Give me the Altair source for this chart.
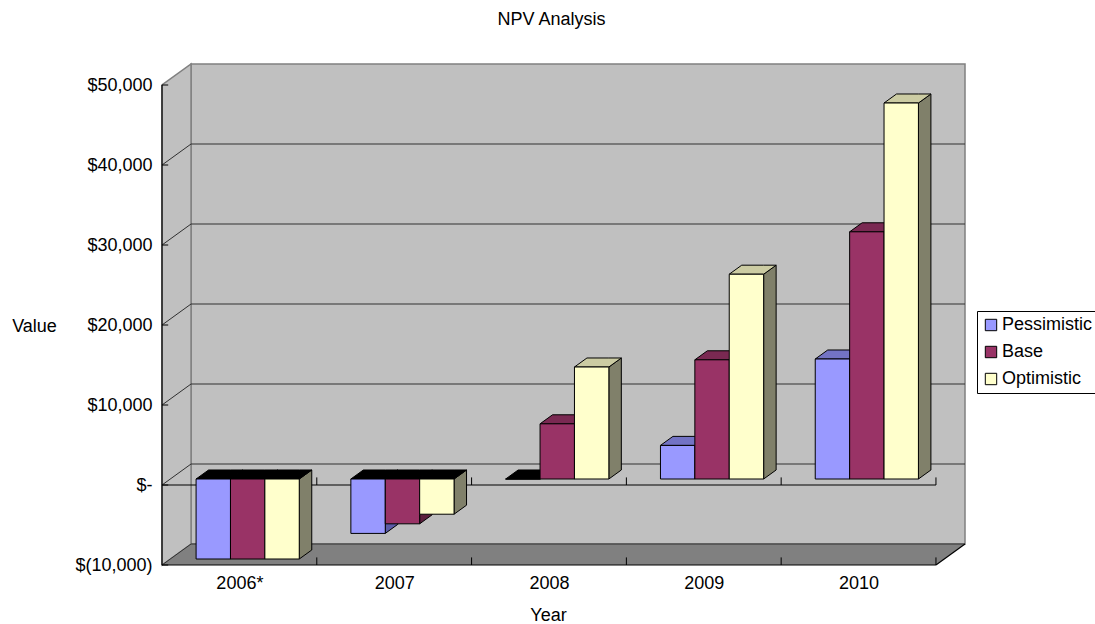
import altair as alt
import pandas as pd

# ---- chart values -------------------------------------------------------
years = ["2006*", "2007", "2008", "2009", "2010"]
series = ["Pessimistic", "Base", "Optimistic"]
pessimistic = [-10000, -6800, 0, 4200, 15000]
base = [-10000, -5600, 6900, 14900, 30900]
optimistic = [-10000, -4400, 14000, 25600, 47000]
y_ticks = [-10000, 0, 10000, 20000, 30000, 40000, 50000]

front_colors = ["#9999FF", "#993366", "#FFFFCC"]
top_colors = ["#7373C4", "#7A2952", "#CCCCA3"]
side_colors = ["#5C5CA8", "#5C1F3D", "#80806A"]

# ---- oblique projection settings (data units) ---------------------------
Y_MIN, Y_MAX = -10000, 50000
N = len(years)
DX = 0.1876      # wall depth along x, in category units
DV = 2625        # wall depth along y, in value units
BAR_W = 0.2222   # width of one bar
GROUP = BAR_W * len(series)
BAR_FRONT = 0.285
BAR_DEPTH = 0.43

FONT = "Liberation Sans"
X_DOMAIN = [0, N + DX]
Y_DOMAIN = [Y_MIN, Y_MAX + DV]

label_js = "[" + ",".join("'%s'" % y for y in years) + "]"


def X(field):
    return alt.X(
        field + ":Q",
        scale=alt.Scale(domain=X_DOMAIN, nice=False, zero=False),
        axis=alt.Axis(
            values=[i + 0.5 for i in range(N)],
            labelExpr=label_js + "[floor(datum.value)]",
            ticks=False, domain=False, grid=False,
            labelFont=FONT, labelFontSize=18, labelColor="black", labelPadding=9,
            title="Year", titleFont=FONT, titleFontSize=18, titleFontWeight="normal",
            titleColor="black", titleX=386, titleY=50, titleAlign="center",
            titleBaseline="middle",
        ),
    )


def Y(field):
    return alt.Y(
        field + ":Q",
        stack=None,
        scale=alt.Scale(domain=Y_DOMAIN, nice=False, zero=False),
        axis=alt.Axis(
            values=y_ticks,
            labelExpr="datum.value == 0 ? '$-' : (datum.value < 0 ? '$(' + format(-datum.value, ',') + ')' : '$' + format(datum.value, ','))",
            ticks=False, domain=False, grid=False,
            labelFont=FONT, labelFontSize=18, labelColor="black", labelPadding=10,
            title="Value", titleFont=FONT, titleFontSize=18, titleFontWeight="normal",
            titleColor="black", titleAngle=0, titleX=-128, titleY=262,
            titleAlign="center", titleBaseline="middle",
        ),
    )


def polygon_layer(df, stroke=None, stroke_width=1):
    # each face is a band between y and y2 along x, one path per "id"
    kw = dict(orient="vertical", interpolate="linear")
    if stroke:
        kw.update(stroke=stroke, strokeWidth=stroke_width)
    else:
        kw.update(strokeWidth=0)
    return alt.Chart(df).mark_area(**kw).encode(
        x=X("x"), y=Y("y"), y2="y2:Q",
        fill=alt.Fill("face_color:N", scale=None),
        detail="id:N",
    )


# ---- walls and floor -----------------------------------------------------
back_wall = alt.Chart(pd.DataFrame([{
    "x": DX, "x2": N + DX, "y": Y_MIN + DV, "y2": Y_MAX + DV,
}])).mark_rect(fill="#C0C0C0", stroke="#808080", strokeWidth=1.5).encode(
    x=X("x"), x2="x2:Q", y=Y("y"), y2="y2:Q"
)

side_wall = polygon_layer(pd.DataFrame([
    {"id": "side", "x": 0, "y": Y_MIN, "y2": Y_MAX, "face_color": "#C0C0C0"},
    {"id": "side", "x": DX, "y": Y_MIN + DV, "y2": Y_MAX + DV, "face_color": "#C0C0C0"},
]), stroke="#808080", stroke_width=1.5)

floor = polygon_layer(pd.DataFrame([
    {"id": "floor", "x": 0, "y": Y_MIN, "y2": Y_MIN, "face_color": "#808080"},
    {"id": "floor", "x": DX, "y": Y_MIN, "y2": Y_MIN + DV, "face_color": "#808080"},
    {"id": "floor", "x": N, "y": Y_MIN, "y2": Y_MIN + DV, "face_color": "#808080"},
    {"id": "floor", "x": N + DX, "y": Y_MIN + DV, "y2": Y_MIN + DV, "face_color": "#808080"},
]))

# gridlines: diagonal on the side wall, then across the back wall
grid_rows = []
for v in y_ticks[:-1]:
    grid_rows += [
        {"id": v, "ord": 0, "x": 0, "y": v},
        {"id": v, "ord": 1, "x": DX, "y": v + DV},
        {"id": v, "ord": 2, "x": N + DX, "y": v + DV},
    ]
gridlines = alt.Chart(pd.DataFrame(grid_rows)).mark_line(
    color="#303030", strokeWidth=1
).encode(x=X("x"), y=Y("y"), detail="id:N", order=alt.Order("ord:Q"))

# ---- axis lines and inward ticks -----------------------------------------
axis_lines = pd.DataFrame([
    {"x": 0, "x2": 0, "y": Y_MIN, "y2": Y_MAX},          # value axis
    {"x": 0, "x2": N, "y": 0, "y2": 0},                  # category axis at zero
    {"x": 0, "x2": N, "y": Y_MIN, "y2": Y_MIN},          # floor front edge
])
axis_rules = alt.Chart(axis_lines).mark_rule(color="black", strokeWidth=1.2).encode(
    x=X("x"), x2="x2:Q", y=Y("y"), y2="y2:Q"
)

tick_rows = []
for i in range(1, N + 1):
    for lvl in (0, Y_MIN):
        tick_rows.append({"x": i, "x2": i, "y": lvl, "y2": lvl + 950})
for v in y_ticks:
    tick_rows.append({"x": 0, "x2": 0.04, "y": v, "y2": v})
tick_rules = alt.Chart(pd.DataFrame(tick_rows)).mark_rule(color="black", strokeWidth=1).encode(
    x=X("x"), x2="x2:Q", y=Y("y"), y2="y2:Q"
)

floor_edge = alt.Chart(pd.DataFrame([
    {"id": "e", "ord": 0, "x": N, "y": Y_MIN},
    {"id": "e", "ord": 1, "x": N + DX, "y": Y_MIN + DV},
])).mark_line(color="black", strokeWidth=1.2).encode(
    x=X("x"), y=Y("y"), detail="id:N", order=alt.Order("ord:Q")
)

# ---- 3-D columns ---------------------------------------------------------
bdx = DX * BAR_DEPTH
bdv = DV * BAR_DEPTH
ox = DX * BAR_FRONT
ov = DV * BAR_FRONT

bar_layers = []
for k, (name, values) in enumerate(zip(series, [pessimistic, base, optimistic])):
    fronts, faces = [], []
    for i, (year, val) in enumerate(zip(years, values)):
        xl = i + (1 - GROUP) / 2 + k * BAR_W + ox
        xr = xl + BAR_W
        lo = min(val, 0) + ov
        hi = max(val, 0) + ov
        fronts.append({"series": name, "year": year, "x": xl, "x2": xr, "y": lo, "y2": hi})
        sid = f"{year}-{name}-side"
        faces += [
            {"id": sid, "x": xr, "y": lo, "y2": hi, "face_color": side_colors[k]},
            {"id": sid, "x": xr + bdx, "y": lo + bdv, "y2": hi + bdv, "face_color": side_colors[k]},
        ]
        tid = f"{year}-{name}-top"
        tcol = top_colors[k] if val > 0 else "#000000"
        faces += [
            {"id": tid, "x": xl, "y": hi, "y2": hi, "face_color": tcol},
            {"id": tid, "x": xl + bdx, "y": hi, "y2": hi + bdv, "face_color": tcol},
            {"id": tid, "x": xr, "y": hi, "y2": hi + bdv, "face_color": tcol},
            {"id": tid, "x": xr + bdx, "y": hi + bdv, "y2": hi + bdv, "face_color": tcol},
        ]
    face_layer = polygon_layer(pd.DataFrame(faces), stroke="black", stroke_width=1)
    front_layer = alt.Chart(pd.DataFrame(fronts)).mark_rect(
        stroke="black", strokeWidth=1
    ).encode(
        x=X("x"), x2="x2:Q", y=Y("y"), y2="y2:Q",
        color=alt.Color(
            "series:N",
            scale=alt.Scale(domain=series, range=front_colors),
            legend=alt.Legend(
                title=None, orient="none", legendX=815, legendY=247,
                symbolType="square", symbolSize=130,
                symbolStrokeColor="black", symbolStrokeWidth=1,
                labelFont=FONT, labelFontSize=18, labelColor="black",
                labelOffset=2, rowPadding=9, padding=5,
                strokeColor="black", fillColor="white",
            ),
        ),
    )
    bar_layers += [face_layer, front_layer]

chart = alt.layer(
    back_wall, side_wall, floor, gridlines, axis_rules, tick_rules, floor_edge,
    *bar_layers,
).properties(
    width=803,
    height=501,
    autosize="none",
    padding={"left": 162, "top": 64, "right": 130, "bottom": 59},
    title=alt.Title(
        "NPV Analysis", font=FONT, fontSize=18, fontWeight="normal", color="black",
        anchor="middle", dx=-12, offset=18, baseline="alphabetic",
    ),
    background="white",
).configure_view(stroke=None)

chart.save("out.html", embed_options={"renderer": "svg", "actions": False})
